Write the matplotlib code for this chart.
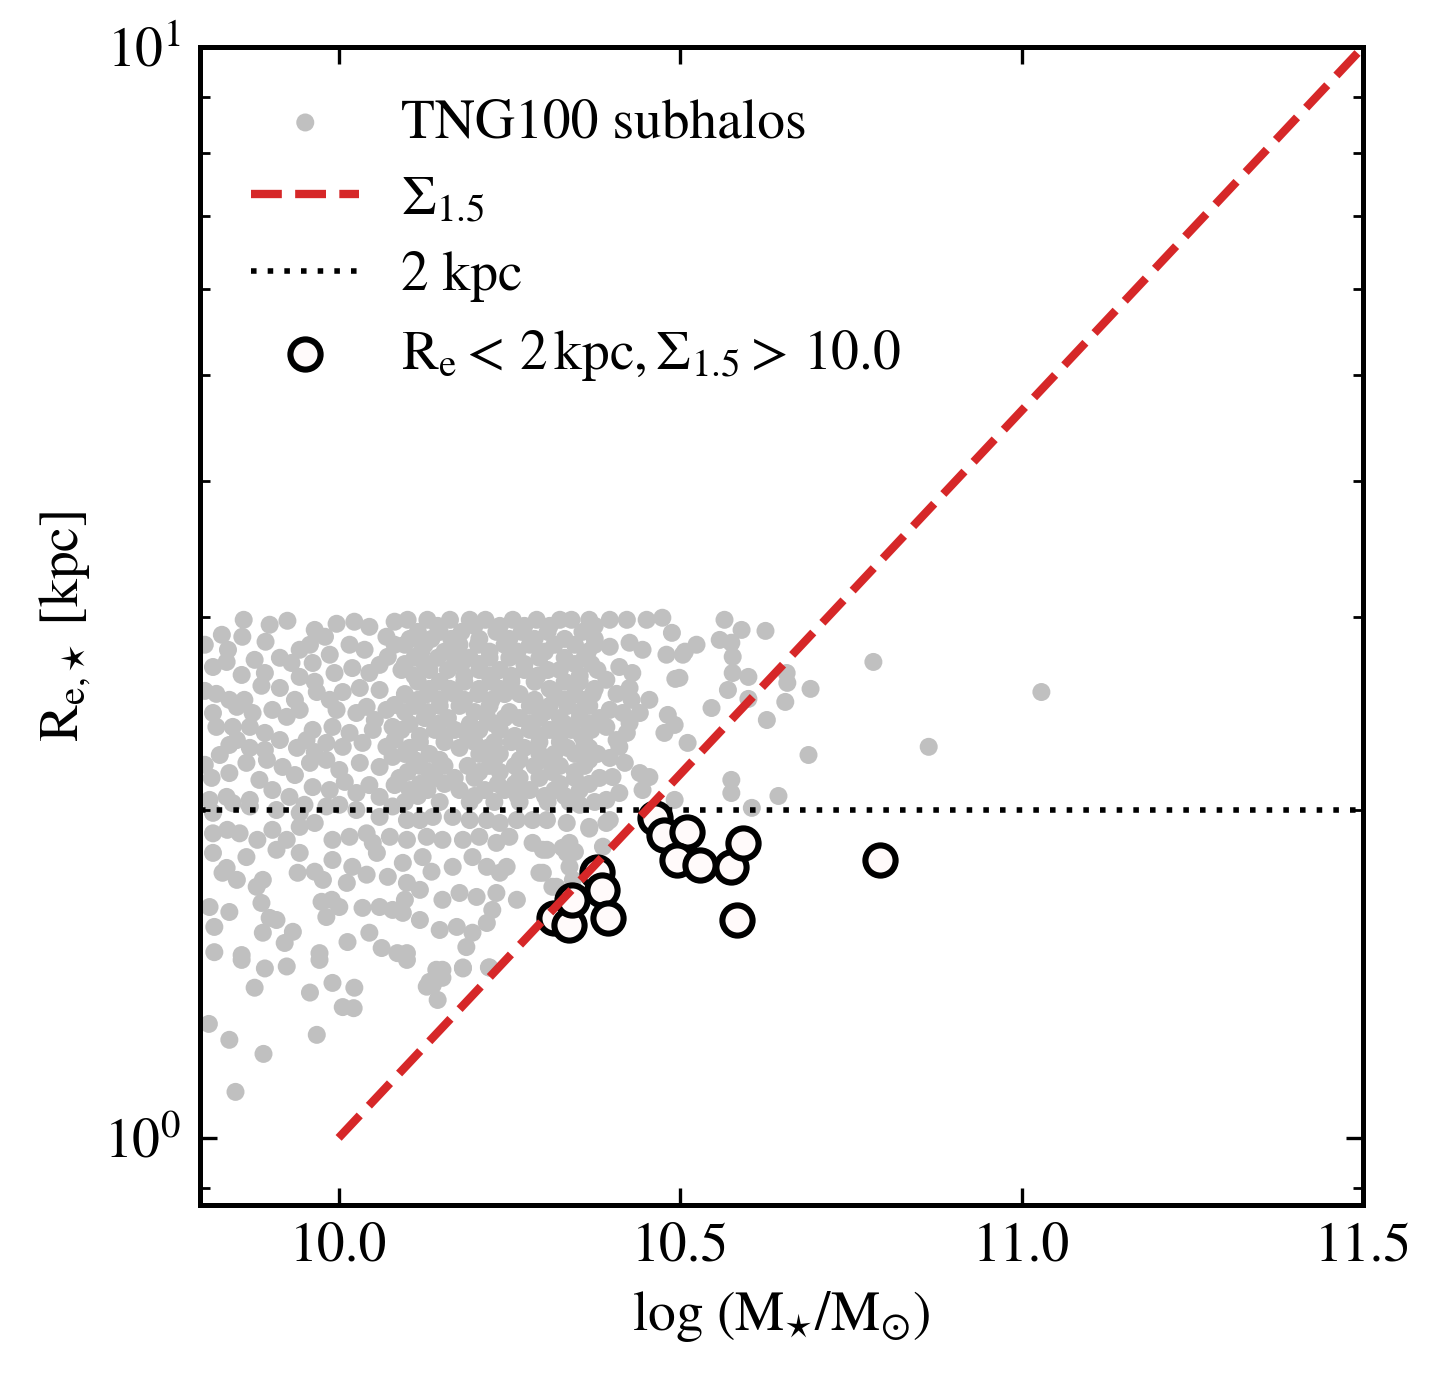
"""Size-mass plane of TNG100 subhalos with the compact, dense selection."""
import matplotlib

matplotlib.use("Agg")
import matplotlib.pyplot as plt  # noqa: E402
import numpy as np  # noqa: E402
from matplotlib.ticker import FixedLocator, NullFormatter  # noqa: E402

plt.rcParams["font.family"] = ["STIXGeneral", "DejaVu Serif"]
plt.rcParams["mathtext.fontset"] = "stix"

# grey cloud: log stellar mass and half-mass radius [kpc]
grey_logm = [
    9.861, 9.925, 9.829, 9.859, 9.893, 9.965, 9.997, 10.023, 10.045, 9.958,
    9.980, 10.016, 10.070, 9.816, 9.836, 9.858, 9.892, 9.914, 9.931, 9.962,
    9.994, 10.020, 10.045, 10.072, 9.821, 9.887, 9.914, 9.943, 9.965, 9.968,
    10.006, 10.031, 10.060, 10.041, 9.816, 9.851, 9.862, 9.874, 9.903, 9.943,
    9.924, 9.997, 10.026, 10.070, 9.821, 9.845, 9.870, 9.892, 9.962, 9.991,
    10.016, 10.050, 10.079, 9.826, 9.851, 9.870, 9.914, 9.939, 9.953, 9.982,
    10.006, 10.035, 10.070, 9.814, 9.840, 9.865, 9.895, 9.918, 9.958, 9.982,
    10.001, 10.031, 10.060, 10.079, 9.836, 9.870, 9.903, 9.928, 9.962, 9.987,
    10.026, 10.060, 9.804,
    9.804, 9.838, 9.877, 9.943, 9.987, 10.038, 10.060, 10.082, 9.840, 9.936,
    9.987, 10.053, 10.082, 9.840, 9.892, 9.965, 10.082, 9.804, 9.884, 9.936,
    10.009, 10.045, 10.082, 9.811, 9.950, 10.001, 9.899, 10.082,
    # dense core
    10.101, 10.130, 10.163, 10.192, 10.215, 10.255, 10.290, 10.324, 10.341, 10.367,
    10.116, 10.148, 10.180, 10.231, 10.268, 10.306, 10.357,
    10.097, 10.126, 10.177, 10.204, 10.243, 10.280, 10.316, 10.346, 10.375,
    10.111, 10.145, 10.170, 10.192, 10.221, 10.250, 10.294, 10.331, 10.360,
    10.092, 10.133, 10.160, 10.206, 10.236, 10.272, 10.306, 10.324, 10.379,
    10.116, 10.148, 10.184, 10.224, 10.253, 10.287, 10.331, 10.353,
    10.097, 10.130, 10.170, 10.204, 10.243, 10.265, 10.316, 10.346, 10.372,
    10.111, 10.148, 10.177, 10.221, 10.280, 10.309, 10.335, 10.367,
    10.126, 10.160, 10.218, 10.243, 10.265, 10.294, 10.324, 10.353, 10.382,
    10.092, 10.141, 10.170, 10.206, 10.236, 10.280, 10.309, 10.341, 10.370,
    10.119, 10.155, 10.199, 10.228, 10.253, 10.294, 10.324, 10.360,
    10.097, 10.133, 10.206, 10.236, 10.294, 10.316, 10.346, 10.379,
    10.119, 10.155, 10.189, 10.221, 10.258, 10.287, 10.324, 10.360,
    10.089, 10.141, 10.170, 10.199, 10.265, 10.294, 10.346, 10.382,
    10.104, 10.130, 10.177, 10.214, 10.243, 10.280, 10.316, 10.353,
    10.097, 10.148, 10.192, 10.228, 10.265, 10.306, 10.338, 10.375,
    10.145, 10.199, 10.236, 10.272, 10.309, 10.375,
    10.104, 10.136, 10.165, 10.206, 10.250, 10.287, 10.331, 10.375,
    10.121, 10.155, 10.221, 10.262, 10.302, 10.365,
    10.097, 10.126, 10.180, 10.206, 10.272, 10.346, 10.370,
    10.111, 10.184, 10.221, 10.253, 10.291, 10.353,
    10.133, 10.163, 10.206, 10.236, 10.309, 10.375,
    10.116, 10.148, 10.184, 10.224, 10.287, 10.331, 10.360,
    10.097, 10.130, 10.199, 10.250, 10.302, 10.353,
    10.104, 10.145, 10.192, 10.228, 10.280, 10.331, 10.367,
    10.119, 10.155, 10.189, 10.258, 10.294, 10.324, 10.356,
    10.104, 10.177, 10.218, 10.272, 10.335, 10.367,
    10.111, 10.148, 10.228, 10.265, 10.302, 10.367,
    10.101, 10.133, 10.206, 10.236, 10.312, 10.346,
    10.119, 10.155, 10.233, 10.258, 10.324, 10.367,
    10.116, 10.199, 10.262, 10.302, 10.331,
    # upper right edge of the cloud
    10.397, 10.422, 10.451, 10.474, 10.488, 10.397, 10.426, 10.445, 10.411, 10.430,
    10.392, 10.426, 10.407, 10.429, 10.397, 10.416, 10.392, 10.426, 10.407, 10.397,
    10.480, 10.504, 10.493, 10.455, 10.441, 10.482, 10.492, 10.477, 10.422, 10.411,
    10.511, 10.419, 10.441, 10.455, 10.401, 10.411, 10.445, 10.392, 10.492,
    10.565, 10.590, 10.625, 10.558, 10.575, 10.524, 10.507, 10.577, 10.783, 10.577,
    10.600, 10.656, 10.657, 10.691, 10.570, 11.029, 10.600, 10.654, 10.546, 10.627,
    10.864, 10.688, 10.575, 10.575, 10.644, 10.605, 10.499,
    # below 2 kpc, low mass side
    9.816, 9.837, 9.855, 9.881, 9.903, 9.924, 9.943, 9.965, 9.816, 9.836,
    9.865, 9.909, 9.943, 9.991, 10.016, 10.050, 10.075, 9.991, 10.020, 10.056,
    9.830, 9.851, 9.880, 9.889, 9.940, 9.965, 9.977, 10.041, 10.072, 10.012,
    9.811, 9.840, 9.887, 9.975, 9.990, 10.001, 9.982, 10.035, 10.060, 10.079,
    9.818, 9.899, 9.909, 9.889, 9.933, 9.921, 10.013, 10.045, 10.063, 10.086,
    9.818, 9.858, 9.972, 9.892, 9.924, 9.991, 10.023, 9.877, 9.958,
    9.845, 9.870, 9.909, 9.943, 9.982, 10.026, 10.060, 10.079, 10.041, 9.816,
    10.006, 10.022, 9.810, 9.840, 9.968, 9.890, 9.849, 10.133, 10.152, 10.145,
    10.182, 10.220, 10.138, 9.858, 9.972, 10.100,
    # below 2 kpc, middle
    10.100, 10.119, 10.138, 10.167, 10.192, 10.217, 10.236, 10.261, 10.284, 10.305,
    10.334, 10.367, 10.397, 10.100, 10.129, 10.152, 10.182, 10.206, 10.231, 10.250,
    10.284, 10.299, 10.338, 10.334, 10.387, 10.094, 10.123, 10.136, 10.167, 10.196,
    10.217, 10.236, 10.246, 10.294, 10.319, 10.338, 10.343, 10.100, 10.119, 10.152,
    10.177, 10.202, 10.231, 10.261, 10.097, 10.094, 10.119, 10.148, 10.173, 10.196,
    10.187, 10.217, 10.225, 10.100, 10.143, 10.182, 10.221, 10.129, 10.152,
    10.305, 10.367, 10.392, 10.346, 10.328, 10.305, 10.313, 10.299, 10.353,
]
grey_re = [
    2.985, 2.979, 2.892, 2.880, 2.850, 2.922, 2.960, 2.973, 2.941, 2.832,
    2.880, 2.832, 2.880, 2.702, 2.731, 2.657, 2.668, 2.755, 2.725, 2.725,
    2.668, 2.696, 2.668, 2.761, 2.553, 2.597, 2.585, 2.646, 2.619, 2.563,
    2.563, 2.585, 2.574, 2.484, 2.452, 2.484, 2.521, 2.452, 2.468, 2.468,
    2.432, 2.468, 2.452, 2.468, 2.381, 2.381, 2.381, 2.351, 2.366, 2.381,
    2.351, 2.366, 2.381, 2.244, 2.316, 2.278, 2.316, 2.278, 2.316, 2.302,
    2.283, 2.302, 2.283, 2.138, 2.160, 2.207, 2.221, 2.188, 2.207, 2.221,
    2.174, 2.207, 2.188, 2.235, 2.054, 2.041, 2.084, 2.054, 2.097, 2.084,
    2.071, 2.054, 2.832,
    2.569, 2.802, 2.743, 2.802, 2.773, 2.802, 2.714, 2.832, 2.521, 2.521,
    2.521, 2.416, 2.494, 2.292, 2.268, 2.258, 2.316, 2.198, 2.129, 2.151,
    2.120, 2.106, 2.106, 2.041, 2.020, 2.020, 2.954, 2.973,
    # dense core
    2.985, 2.985, 2.985, 2.985, 2.985, 2.985, 2.985, 2.985, 2.985, 2.985,
    2.910, 2.910, 2.910, 2.910, 2.910, 2.910, 2.910,
    2.832, 2.832, 2.832, 2.832, 2.832, 2.832, 2.832, 2.832, 2.832,
    2.755, 2.755, 2.755, 2.755, 2.755, 2.755, 2.755, 2.755, 2.755,
    2.685, 2.685, 2.685, 2.685, 2.685, 2.685, 2.685, 2.685, 2.685,
    2.619, 2.619, 2.619, 2.619, 2.619, 2.619, 2.619, 2.619,
    2.552, 2.552, 2.552, 2.552, 2.552, 2.552, 2.552, 2.552, 2.552,
    2.489, 2.489, 2.489, 2.489, 2.489, 2.489, 2.489, 2.489,
    2.426, 2.426, 2.426, 2.426, 2.426, 2.426, 2.426, 2.426, 2.426,
    2.366, 2.366, 2.366, 2.366, 2.366, 2.366, 2.366, 2.366, 2.366,
    2.306, 2.306, 2.306, 2.306, 2.306, 2.306, 2.306, 2.306,
    2.249, 2.249, 2.249, 2.249, 2.249, 2.249, 2.249, 2.249,
    2.193, 2.193, 2.193, 2.193, 2.193, 2.193, 2.193, 2.193,
    2.138, 2.138, 2.138, 2.138, 2.138, 2.138, 2.138, 2.138,
    2.084, 2.084, 2.084, 2.084, 2.084, 2.084, 2.084, 2.084,
    2.032, 2.032, 2.032, 2.032, 2.032, 2.032, 2.032, 2.032,
    2.947, 2.947, 2.947, 2.947, 2.947, 2.947,
    2.867, 2.867, 2.867, 2.867, 2.867, 2.867, 2.867, 2.867,
    2.791, 2.791, 2.791, 2.791, 2.791, 2.791,
    2.719, 2.719, 2.719, 2.719, 2.719, 2.719, 2.719,
    2.652, 2.652, 2.652, 2.652, 2.652, 2.652,
    2.580, 2.580, 2.580, 2.580, 2.580, 2.580,
    2.521, 2.521, 2.521, 2.521, 2.521, 2.521, 2.521,
    2.457, 2.457, 2.457, 2.457, 2.457, 2.457,
    2.396, 2.396, 2.396, 2.396, 2.396, 2.396, 2.396,
    2.336, 2.336, 2.336, 2.336, 2.336, 2.336, 2.336,
    2.278, 2.278, 2.278, 2.278, 2.278, 2.278,
    2.221, 2.221, 2.221, 2.221, 2.221, 2.221,
    2.165, 2.165, 2.165, 2.165, 2.165, 2.165,
    2.111, 2.111, 2.111, 2.111, 2.111, 2.111,
    2.058, 2.058, 2.058, 2.058, 2.058,
    # upper right edge of the cloud
    2.985, 2.985, 2.985, 2.998, 2.904, 2.820, 2.844, 2.802, 2.702, 2.668,
    2.630, 2.585, 2.553, 2.521, 2.468, 2.452, 2.381, 2.401, 2.316, 2.230,
    2.773, 2.773, 2.635, 2.521, 2.452, 2.442, 2.391, 2.351, 2.351, 2.283,
    2.302, 2.207, 2.160, 2.142, 2.142, 2.071, 2.084, 2.041, 2.041,
    2.985, 2.922, 2.916, 2.861, 2.844, 2.832, 2.791, 2.761, 2.731, 2.668,
    2.646, 2.668, 2.613, 2.580, 2.574, 2.563, 2.526, 2.510, 2.478, 2.416,
    2.283, 2.244, 2.129, 2.071, 2.058, 2.007, 2.641,
    # below 2 kpc, low mass side
    1.902, 1.916, 1.902, 1.876, 1.916, 1.876, 1.928, 1.944, 1.825, 1.768,
    1.809, 1.837, 1.825, 1.876, 1.888, 1.864, 1.888, 1.798, 1.772, 1.825,
    1.750, 1.724, 1.699, 1.724, 1.750, 1.754, 1.724, 1.743, 1.735, 1.713,
    1.628, 1.611, 1.642, 1.646, 1.653, 1.628, 1.594, 1.625, 1.628, 1.618,
    1.561, 1.591, 1.584, 1.542, 1.545, 1.509, 1.512, 1.542, 1.493, 1.477,
    1.480, 1.471, 1.477, 1.430, 1.436, 1.387, 1.373, 1.373, 1.359,
    2.027, 2.013, 1.998, 1.986, 2.013, 1.998, 1.969, 2.013, 1.902, 1.986,
    1.318, 1.315, 1.272, 1.230, 1.243, 1.194, 1.102, 1.390, 1.426, 1.338,
    1.430, 1.433, 1.381, 1.456, 1.456, 1.456,
    # below 2 kpc, middle
    1.956, 1.956, 1.969, 1.969, 1.956, 1.956, 1.944, 1.956, 1.956, 1.956,
    1.944, 1.928, 1.956, 1.876, 1.888, 1.876, 1.876, 1.888, 1.864, 1.888,
    1.864, 1.837, 1.864, 1.825, 1.849, 1.787, 1.809, 1.754, 1.772, 1.809,
    1.772, 1.750, 1.772, 1.750, 1.699, 1.772, 1.724, 1.713, 1.688, 1.653,
    1.677, 1.663, 1.677, 1.653, 1.653, 1.608, 1.584, 1.551, 1.561, 1.542,
    1.496, 1.574, 1.618, 1.477, 1.426, 1.433, 1.433, 1.376, 1.402,
    2.051, 1.921, 1.944, 1.829, 1.845, 1.837, 1.699, 1.750, 2.020,
]

# compact and dense selection (open circles)
compact_logm = [10.316, 10.338, 10.341, 10.379, 10.385, 10.394, 10.463, 10.477,
                10.510, 10.496, 10.529, 10.575, 10.592, 10.584, 10.792]
compact_re = [1.591, 1.567, 1.653, 1.753, 1.688, 1.591, 1.965, 1.895,
              1.907, 1.798, 1.780, 1.772, 1.864, 1.584, 1.798]

sigma_logm = [10.0, 11.5]   # ends of the Sigma_1.5 = 10 line
sigma_cut = 10.0
size_cut = 2.0              # kpc

fig = plt.figure(figsize=(7.225, 6.88), dpi=200)
ax = fig.add_axes([0.1384, 0.1243, 0.8049, 0.8415])

ax.scatter(grey_logm, grey_re, s=42, c="silver", edgecolors="none",
           label="TNG100 subhalos", zorder=1)
sig_re = 10 ** ((np.array(sigma_logm) - sigma_cut) / 1.5)
ax.plot(sigma_logm, sig_re, color="#d62728", ls="--", lw=3,
        label=r"$\Sigma_{1.5}$", zorder=4)
ax.axhline(size_cut, color="k", ls=(0, (1, 2)), lw=2, label="2 kpc", zorder=2)
ax.scatter(compact_logm, compact_re, s=118, facecolors="snow", edgecolors="k",
           linewidths=2.2, zorder=3,
           label=r"$\mathrm{R_e} <\, 2\,\mathrm{kpc}, \Sigma_{1.5} >\, 10.0$")

ax.set_yscale("log")
ax.set_xlim(9.797, 11.5)
ax.set_ylim(0.868, 10)
ax.xaxis.set_major_locator(FixedLocator([10.0, 10.5, 11.0, 11.5]))
ax.set_xticklabels(["10.0", "10.5", "11.0", "11.5"])
ax.yaxis.set_minor_formatter(NullFormatter())

for side in ax.spines.values():
    side.set_linewidth(1.8)
ax.tick_params(which="both", direction="in", top=True, right=True,
               labelsize=20)
ax.tick_params(which="major", length=6, width=1.2, pad=6)
ax.tick_params(which="minor", length=3.5, width=1.0)
ax.tick_params(axis="y", which="major", pad=7)

ax.set_xlabel(r"$\log\,(\mathrm{M}_{\star}/\mathrm{M}_{\odot})$", fontsize=20,
              labelpad=6)
ax.set_ylabel(r"$\mathrm{R}_{\mathrm{e}{,}\star}\;[\mathrm{kpc}]$", fontsize=20,
              labelpad=4)

ax.legend(loc="upper left", frameon=False, fontsize=20, handlelength=1.95,
          handletextpad=0.75, labelspacing=0.46, borderpad=0.3,
          borderaxespad=0.62)

fig.savefig("out.png", dpi=200)
